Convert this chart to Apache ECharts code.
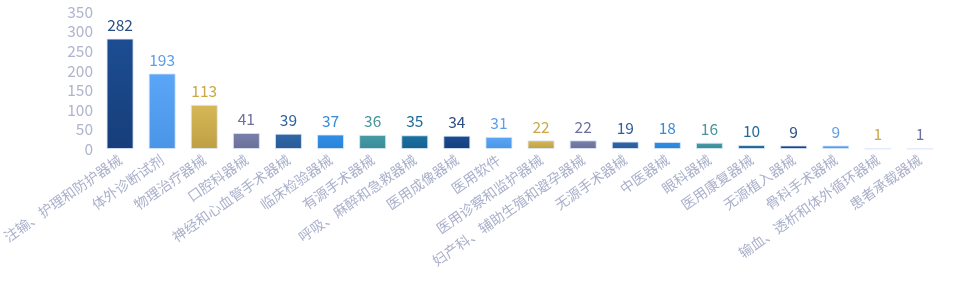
<!DOCTYPE html>
<html>
<head>
<meta charset="utf-8">
<script src="https://cdn.jsdelivr.net/npm/echarts@6/dist/echarts.min.js"></script>
<style>
html,body{margin:0;padding:0;background:#fff;}
#chart{width:960px;height:287px;}
</style>
</head>
<body>
<div id="chart"></div>
<script>
var categories = ['注输、护理和防护器械','体外诊断试剂','物理治疗器械','口腔科器械','神经和心血管手术器械','临床检验器械','有源手术器械','呼吸、麻醉和急救器械','医用成像器械','医用软件','医用诊察和监护器械','妇产科、辅助生殖和避孕器械','无源手术器械','中医器械','眼科器械','医用康复器械','无源植入器械','骨科手术器械','输血、透析和体外循环器械','患者承载器械'];
var values = [282,193,113,41,39,37,36,35,34,31,22,22,19,18,16,10,9,9,1,1];
var yTicks = [0,50,100,150,200,250,300,350];
// 颜色循环 [上, 下, 文字]
var palette = [
	['#1c4d92','#163e7a','#2b4f86'],
	['#5ba6f6','#4b95e7','#5b9ee8'],
	['#d7b858','#bea043','#c9a845'],
	['#7980ab','#6a7098','#6b70a0'],
	['#3068a8','#295a95','#2f5f9c'],
	['#2f90e5','#2a83d6','#3a8ad8'],
	['#469ca5','#3a8b96','#4a949c'],
	['#1b71a2','#16628f','#1f6a98']
];

var chart = echarts.init(document.getElementById('chart'));
var barData = values.map(function(v,i){
	var c = palette[i % palette.length];
	return {
		value: v,
		itemStyle: {
			color: new echarts.graphic.LinearGradient(0,0,0,1,[
				{offset:0,color:c[0]},
				{offset:1,color:c[1]}
			]),
			borderColor: 'rgba(220,232,250,0.8)',
			borderWidth: 1
		},
		label: {color: c[2]}
	};
});
var option = {
	animation: false,
	grid: {left: 99, right: 19, top: 12, bottom: 138, outerBoundsMode: 'none'},
	xAxis: {
		type: 'category',
		data: categories,
		axisLine: {show: false},
		axisTick: {show: false},
		axisLabel: {
			interval: 0,
			rotate: 35,
			color: '#aab0cb',
			fontSize: 14,
			fontFamily: 'Noto Sans CJK SC',
			margin: 9
		}
	},
	yAxis: {
		type: 'value',
		min: 0,
		max: 350,
		interval: 50,
		splitLine: {show: false},
		axisLine: {show: false},
		axisTick: {show: false},
		axisLabel: {
			color: '#b0b4cc',
			fontSize: 15.5,
			fontFamily: 'Noto Sans CJK SC',
			margin: 6,
			padding: [0,0,8,0],
			formatter: function(v){ return yTicks.indexOf(v) >= 0 ? v : ''; }
		}
	},
	series: [{
		type: 'bar',
		data: barData,
		barWidth: 27,
		label: {
			show: true,
			position: 'top',
			distance: 6,
			fontSize: 15.5,
			fontFamily: 'Noto Sans CJK SC'
		}
	}]
};
chart.setOption(option);
</script>
</body>
</html>
